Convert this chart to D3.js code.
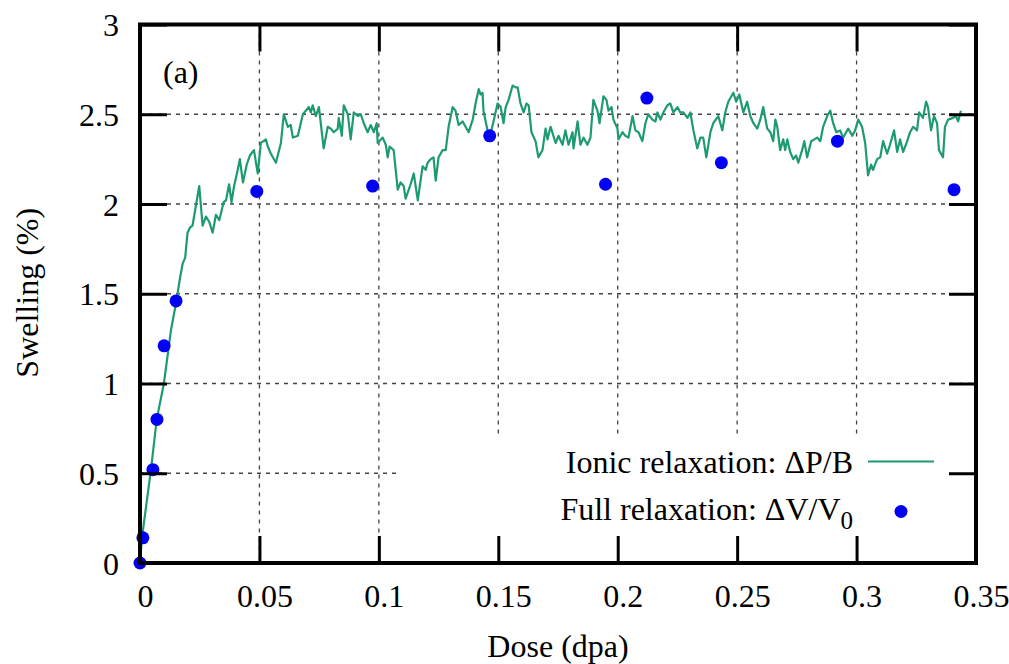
<!DOCTYPE html>
<html>
<head>
<meta charset="utf-8">
<script src="https://cdn.jsdelivr.net/npm/d3@7"></script>
<style>
  body { margin: 0; background: #fff; }
  svg text { font-family: "Liberation Serif", Tinos, "Times New Roman", Times, "DejaVu Serif", serif; fill: #000; }
</style>
</head>
<body>
<div id="chart"></div>
<script>
// Ionic relaxation (line)
const ionicDose = [0, 0.0008, 0.0046, 0.0070, 0.0100, 0.0130, 0.0151, 0.0169, 0.0179, 0.0189,
  0.0199, 0.0210, 0.0220, 0.0248, 0.0262, 0.0276, 0.0290, 0.0304, 0.0318, 0.0332,
  0.0350, 0.0360, 0.0373, 0.0383, 0.0394, 0.0409, 0.0418, 0.0431, 0.0447, 0.0460,
  0.0477, 0.0493, 0.0506, 0.0527, 0.0535, 0.0548, 0.0569, 0.0590, 0.0602, 0.0619,
  0.0631, 0.0640, 0.0661, 0.0673, 0.0682, 0.0694, 0.0707, 0.0715, 0.0723, 0.0736,
  0.0749, 0.0769, 0.0786, 0.0799, 0.0811, 0.0828, 0.0832, 0.0845, 0.0853, 0.0870,
  0.0882, 0.0895, 0.0912, 0.0924, 0.0937, 0.0953, 0.0966, 0.0979, 0.0991, 0.0995,
  0.1016, 0.1029, 0.1037, 0.1045, 0.1062, 0.1079, 0.1091, 0.1104, 0.1112, 0.1133,
  0.1146, 0.1163, 0.1183, 0.1196, 0.1204, 0.1217, 0.1229, 0.1238, 0.1250, 0.1267,
  0.1280, 0.1292, 0.1309, 0.1321, 0.1334, 0.1351, 0.1363, 0.1376, 0.1393, 0.1405,
  0.1418, 0.1426, 0.1434, 0.1438, 0.1455, 0.1464, 0.1480, 0.1497, 0.1510, 0.1522,
  0.1531, 0.1543, 0.1560, 0.1572, 0.1581, 0.1593, 0.1606, 0.1618, 0.1627, 0.1639,
  0.1656, 0.1668, 0.1685, 0.1698, 0.1706, 0.1719, 0.1740, 0.1752, 0.1769, 0.1781,
  0.1794, 0.1811, 0.1815, 0.1832, 0.1844, 0.1857, 0.1873, 0.1886, 0.1898, 0.1915,
  0.1924, 0.1940, 0.1953, 0.1961, 0.1974, 0.1982, 0.1999, 0.2003, 0.2020, 0.2032,
  0.2045, 0.2062, 0.2074, 0.2087, 0.2103, 0.2116, 0.2128, 0.2145, 0.2158, 0.2166,
  0.2179, 0.2191, 0.2208, 0.2220, 0.2233, 0.2250, 0.2262, 0.2275, 0.2292, 0.2304,
  0.2317, 0.2333, 0.2346, 0.2358, 0.2371, 0.2388, 0.2400, 0.2421, 0.2438, 0.2450,
  0.2463, 0.2484, 0.2496, 0.2509, 0.2526, 0.2542, 0.2555, 0.2568, 0.2584, 0.2597,
  0.2609, 0.2626, 0.2639, 0.2651, 0.2660, 0.2668, 0.2680, 0.2693, 0.2701, 0.2710,
  0.2722, 0.2735, 0.2747, 0.2756, 0.2772, 0.2781, 0.2793, 0.2810, 0.2823, 0.2835,
  0.2848, 0.2860, 0.2877, 0.2890, 0.2902, 0.2915, 0.2931, 0.2944, 0.2965, 0.2982,
  0.2994, 0.3007, 0.3023, 0.3036, 0.3048, 0.3061, 0.3069, 0.3086, 0.3099, 0.3111,
  0.3128, 0.3140, 0.3157, 0.3170, 0.3182, 0.3195, 0.3212, 0.3224, 0.3237, 0.3253,
  0.3262, 0.3278, 0.3291, 0.3299, 0.3312, 0.3324, 0.3337, 0.3345, 0.3362, 0.3370,
  0.3383, 0.3404, 0.3416, 0.3425, 0.3437]
const ionicSwelling = [0, 0.14, 0.52, 0.80, 1.00, 1.30, 1.45, 1.60, 1.67, 1.70,
  1.84, 1.87, 1.88, 2.10, 1.88, 1.93, 1.90, 1.84, 1.94, 1.91,
  2.01, 2.02, 2.11, 2.01, 2.10, 2.19, 2.25, 2.12, 2.22, 2.27,
  2.30, 2.17, 2.34, 2.36, 2.32, 2.28, 2.23, 2.34, 2.50, 2.43,
  2.44, 2.37, 2.38, 2.45, 2.50, 2.52, 2.54, 2.51, 2.55, 2.49,
  2.54, 2.31, 2.43, 2.42, 2.40, 2.42, 2.48, 2.38, 2.55, 2.50,
  2.36, 2.51, 2.49, 2.50, 2.45, 2.40, 2.44, 2.40, 2.45, 2.34,
  2.37, 2.33, 2.26, 2.32, 2.30, 2.08, 2.12, 2.10, 2.03, 2.11,
  2.17, 2.02, 2.21, 2.19, 2.23, 2.25, 2.26, 2.13, 2.26, 2.30,
  2.30, 2.43, 2.54, 2.52, 2.44, 2.46, 2.43, 2.40, 2.47, 2.56,
  2.64, 2.61, 2.62, 2.52, 2.41, 2.37, 2.46, 2.56, 2.54, 2.45,
  2.54, 2.58, 2.66, 2.65, 2.65, 2.56, 2.51, 2.56, 2.55, 2.40,
  2.35, 2.26, 2.30, 2.42, 2.36, 2.43, 2.34, 2.38, 2.33, 2.41,
  2.33, 2.40, 2.31, 2.46, 2.33, 2.37, 2.33, 2.37, 2.58, 2.52,
  2.45, 2.60, 2.58, 2.52, 2.54, 2.47, 2.42, 2.36, 2.40, 2.38,
  2.37, 2.49, 2.41, 2.40, 2.35, 2.45, 2.50, 2.47, 2.46, 2.51,
  2.47, 2.51, 2.55, 2.56, 2.51, 2.54, 2.51, 2.51, 2.48, 2.51,
  2.41, 2.31, 2.37, 2.37, 2.26, 2.40, 2.45, 2.49, 2.41, 2.51,
  2.57, 2.62, 2.57, 2.61, 2.51, 2.57, 2.49, 2.45, 2.42, 2.47,
  2.54, 2.42, 2.40, 2.35, 2.47, 2.43, 2.30, 2.36, 2.30, 2.36,
  2.29, 2.25, 2.27, 2.23, 2.30, 2.35, 2.26, 2.35, 2.36, 2.37,
  2.35, 2.43, 2.49, 2.52, 2.45, 2.40, 2.41, 2.37, 2.42, 2.38,
  2.41, 2.47, 2.43, 2.34, 2.16, 2.22, 2.19, 2.25, 2.26, 2.35,
  2.28, 2.33, 2.41, 2.29, 2.36, 2.29, 2.35, 2.40, 2.43, 2.41,
  2.51, 2.48, 2.57, 2.54, 2.41, 2.49, 2.45, 2.30, 2.26, 2.43,
  2.47, 2.48, 2.49, 2.46, 2.52]

// Full relaxation (points)
const fullDose = [0, 0.0012, 0.0054, 0.0071, 0.0101, 0.0151, 0.0489, 0.0974, 0.1464, 0.1949, 0.2122, 0.2434, 0.2920, 0.3408]
const fullSwelling = [0, 0.14, 0.52, 0.80, 1.21, 1.46, 2.07, 2.10, 2.38, 2.11, 2.59, 2.23, 2.35, 2.08]

const xTicks = [0, 0.05, 0.1, 0.15, 0.2, 0.25, 0.3, 0.35]
const yTicks = [0, 0.5, 1, 1.5, 2, 2.5, 3]
const xGrid = [0.05, 0.1, 0.15, 0.2, 0.25, 0.3]
const yGrid = [0.5, 1, 1.5, 2, 2.5]

const W = 1009
const H = 664
const margin = { top: 24.5, right: 33, bottom: 101, left: 140 }
const width = W - margin.left - margin.right
const height = H - margin.top - margin.bottom
const lineColor = '#1e9a73'
const pointColor = '#0000f5'
const tickLen = 27
const serif = '"Liberation Serif", Tinos, "Times New Roman", Times, "DejaVu Serif", serif'

const svg = d3.select('#chart')
  .append('svg')
  .attr('width', W)
  .attr('height', H)
  .append('g')
  .attr('transform', 'translate(' + margin.left + ',' + margin.top + ')')

const x = d3.scaleLinear().domain([0, 0.35]).range([0, width])
const y = d3.scaleLinear().domain([0, 3]).range([height, 0])

// grid
svg.selectAll('.vgrid')
  .data(xGrid)
  .enter().append('line')
  .attr('x1', d => x(d)).attr('x2', d => x(d))
  .attr('y1', 0).attr('y2', height)
  .attr('stroke', '#444').attr('stroke-width', 1.3)
  .attr('stroke-dasharray', '4,5')

svg.selectAll('.hgrid')
  .data(yGrid)
  .enter().append('line')
  .attr('x1', 0).attr('x2', width)
  .attr('y1', d => y(d)).attr('y2', d => y(d))
  .attr('stroke', '#444').attr('stroke-width', 1.3)
  .attr('stroke-dasharray', '4,5')

// opaque key area hides the grid behind it
svg.append('rect')
  .attr('x', 257).attr('y', 411)
  .attr('width', width - 257).attr('height', height - 411)
  .attr('fill', '#fff')

// series
const line = d3.line()
  .x((d, i) => x(ionicDose[i]))
  .y(d => y(d))

svg.append('path')
  .datum(ionicSwelling)
  .attr('fill', 'none')
  .attr('stroke', lineColor)
  .attr('stroke-width', 2.2)
  .attr('stroke-linejoin', 'round')
  .attr('d', line)

svg.selectAll('.pt')
  .data(fullSwelling)
  .enter().append('circle')
  .attr('cx', (d, i) => x(fullDose[i]))
  .attr('cy', d => y(d))
  .attr('r', 6.5)
  .attr('fill', pointColor)

// axes: inward ticks on all four sides, labels bottom and left
const axBottom = svg.append('g')
  .attr('transform', 'translate(0,' + height + ')')
  .call(d3.axisBottom(x).tickValues(xTicks).tickSize(-tickLen).tickPadding(0).tickFormat(d3.format('')))
const axTop = svg.append('g')
  .call(d3.axisTop(x).tickValues(xTicks).tickSize(-tickLen).tickFormat(''))
const axLeft = svg.append('g')
  .call(d3.axisLeft(y).tickValues(yTicks).tickSize(-tickLen).tickFormat(d3.format('')))
const axRight = svg.append('g')
  .attr('transform', 'translate(' + width + ',0)')
  .call(d3.axisRight(y).tickValues(yTicks).tickSize(-tickLen).tickFormat(''))

;[axBottom, axTop, axLeft, axRight].forEach(g => {
  g.attr('font-family', serif).attr('font-size', 32)
  g.select('.domain').remove()
  g.selectAll('.tick line').attr('stroke', '#000').attr('stroke-width', 3)
})

axBottom.selectAll('.tick text')
  .attr('fill', '#000')
  .attr('dx', 5)
  .attr('y', 44)
  .attr('dy', 0)

axLeft.selectAll('.tick text')
  .attr('fill', '#000')
  .attr('x', -21)
  .attr('dy', 11)

// frame
svg.append('rect')
  .attr('x', 0).attr('y', 0)
  .attr('width', width).attr('height', height)
  .attr('fill', 'none')
  .attr('stroke', '#000')
  .attr('stroke-width', 4)

// axis titles
svg.append('text')
  .attr('x', width / 2)
  .attr('y', height + 94)
  .attr('text-anchor', 'middle')
  .attr('font-family', serif)
  .attr('font-size', 32)
  .text('Dose (dpa)')

svg.append('text')
  .attr('transform', 'translate(' + (38 - margin.left) + ',' + (height / 2 - 1) + ') rotate(-90)')
  .attr('text-anchor', 'middle')
  .attr('font-family', serif)
  .attr('font-size', 32)
  .text('Swelling (%)')

svg.append('text')
  .attr('x', 23)
  .attr('y', 58)
  .attr('font-family', serif)
  .attr('font-size', 32)
  .text('(a)')

// key
const key = svg.append('g').attr('font-family', serif)
key.append('text')
  .attr('x', 713).attr('y', 448)
  .attr('text-anchor', 'end')
  .attr('font-size', 32)
  .text('Ionic relaxation: \u0394P/B')
key.append('line')
  .attr('x1', 728).attr('x2', 794)
  .attr('y1', 437).attr('y2', 437)
  .attr('stroke', lineColor)
  .attr('stroke-width', 2.2)

const t2 = key.append('text')
  .attr('x', 713).attr('y', 495)
  .attr('text-anchor', 'end')
  .attr('font-size', 32)
t2.append('tspan').text('Full relaxation: \u0394V/V')
t2.append('tspan').attr('dy', 9).attr('font-size', 25).text('0')
key.append('circle')
  .attr('cx', 761).attr('cy', 487)
  .attr('r', 6.5)
  .attr('fill', pointColor)
</script>
</body>
</html>
